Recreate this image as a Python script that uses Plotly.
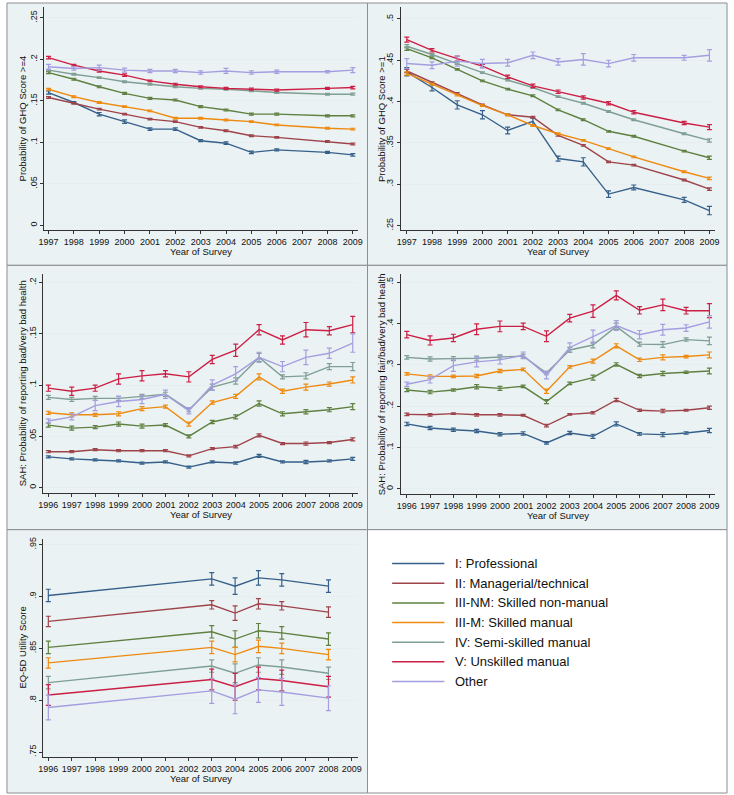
import plotly.graph_objects as go

W, H = 734, 795

classes = ["I: Professional", "II: Managerial/technical", "III-NM: Skilled non-manual",
           "III-M: Skilled manual", "IV: Semi-skilled manual", "V: Unskilled manual", "Other"]
colors = ["#36608a", "#9e434a", "#5f8040", "#ee8a10", "#7f9e94", "#cc1f45", "#a49ee0"]

# ---------------- GHQ >= 4 ----------------
ghq_years = [1997, 1998, 1999, 2000, 2001, 2002, 2003, 2004, 2005, 2006, 2008, 2009]
ghq4_values = [
    [0.160, 0.148, 0.134, 0.125, 0.116, 0.116, 0.102, 0.099, 0.088, 0.091, 0.088, 0.085],
    [0.154, 0.147, 0.140, 0.134, 0.128, 0.125, 0.118, 0.114, 0.108, 0.106, 0.101, 0.098],
    [0.184, 0.176, 0.167, 0.159, 0.153, 0.151, 0.143, 0.139, 0.134, 0.134, 0.132, 0.132],
    [0.164, 0.155, 0.148, 0.143, 0.138, 0.129, 0.129, 0.127, 0.125, 0.121, 0.117, 0.116],
    [0.187, 0.182, 0.178, 0.173, 0.170, 0.167, 0.165, 0.164, 0.162, 0.160, 0.158, 0.158],
    [0.202, 0.193, 0.186, 0.181, 0.174, 0.170, 0.167, 0.165, 0.164, 0.163, 0.165, 0.166],
    [0.191, 0.189, 0.190, 0.187, 0.186, 0.186, 0.184, 0.186, 0.184, 0.185, 0.185, 0.187],
]
ghq4_errors = [
    [0.002, 0.001, 0.002, 0.002, 0.0015, 0.0015, 0.0012, 0.0015, 0.0015, 0.0012, 0.0012, 0.0015],
    [0.001, 0.001, 0.001, 0.001, 0.001, 0.001, 0.001, 0.001, 0.001, 0.001, 0.001, 0.001],
    [0.0012, 0.0012, 0.0012, 0.0012, 0.0012, 0.0012, 0.0012, 0.0012, 0.0012, 0.0012, 0.0012, 0.0012],
    [0.001, 0.001, 0.001, 0.001, 0.001, 0.001, 0.001, 0.001, 0.001, 0.001, 0.001, 0.001],
    [0.001, 0.001, 0.001, 0.001, 0.001, 0.001, 0.001, 0.001, 0.001, 0.001, 0.001, 0.0012],
    [0.0015, 0.001, 0.0015, 0.0015, 0.001, 0.0012, 0.0012, 0.0012, 0.0012, 0.0012, 0.0012, 0.0015],
    [0.003, 0.002, 0.003, 0.0025, 0.002, 0.002, 0.002, 0.003, 0.002, 0.002, 0.0015, 0.003],
]

# ---------------- GHQ >= 1 ----------------
ghq1_values = [
    [0.436, 0.417, 0.396, 0.384, 0.365, 0.376, 0.331, 0.327, 0.288, 0.296, 0.281, 0.268],
    [0.437, 0.423, 0.410, 0.396, 0.384, 0.381, 0.359, 0.347, 0.327, 0.323, 0.305, 0.294],
    [0.464, 0.453, 0.439, 0.425, 0.415, 0.407, 0.390, 0.378, 0.364, 0.358, 0.340, 0.332],
    [0.434, 0.421, 0.408, 0.395, 0.384, 0.371, 0.361, 0.353, 0.343, 0.333, 0.315, 0.307],
    [0.467, 0.457, 0.446, 0.435, 0.426, 0.417, 0.406, 0.398, 0.388, 0.378, 0.361, 0.353],
    [0.475, 0.462, 0.452, 0.443, 0.430, 0.419, 0.412, 0.405, 0.398, 0.387, 0.374, 0.369],
    [0.446, 0.444, 0.449, 0.446, 0.447, 0.456, 0.448, 0.451, 0.446, 0.453, 0.453, 0.456],
]
ghq1_errors = [
    [0.005, 0.004, 0.005, 0.005, 0.004, 0.004, 0.003, 0.005, 0.004, 0.003, 0.003, 0.005],
    [0.002, 0.001, 0.001, 0.001, 0.001, 0.001, 0.001, 0.001, 0.001, 0.001, 0.001, 0.0015],
    [0.002, 0.001, 0.001, 0.001, 0.001, 0.001, 0.001, 0.001, 0.001, 0.001, 0.001, 0.002],
    [0.002, 0.001, 0.001, 0.001, 0.001, 0.001, 0.001, 0.001, 0.001, 0.001, 0.001, 0.0015],
    [0.002, 0.001, 0.001, 0.001, 0.001, 0.001, 0.001, 0.001, 0.001, 0.001, 0.001, 0.002],
    [0.003, 0.002, 0.003, 0.002, 0.002, 0.002, 0.002, 0.002, 0.002, 0.002, 0.002, 0.003],
    [0.006, 0.004, 0.006, 0.005, 0.004, 0.004, 0.004, 0.007, 0.004, 0.004, 0.003, 0.007],
]

# ---------------- SAH bad / very bad ----------------
sah_years = [1996, 1997, 1998, 1999, 2000, 2001, 2002, 2003, 2004, 2005, 2006, 2007, 2008, 2009]
sahbad_values = [
    [0.030, 0.028, 0.027, 0.026, 0.024, 0.025, 0.020, 0.025, 0.024, 0.031, 0.025, 0.025, 0.026, 0.028],
    [0.035, 0.035, 0.037, 0.036, 0.036, 0.036, 0.031, 0.038, 0.040, 0.051, 0.043, 0.043, 0.044, 0.047],
    [0.061, 0.058, 0.059, 0.062, 0.060, 0.061, 0.050, 0.064, 0.069, 0.082, 0.072, 0.074, 0.076, 0.079],
    [0.073, 0.071, 0.071, 0.072, 0.077, 0.079, 0.062, 0.083, 0.089, 0.108, 0.094, 0.098, 0.101, 0.105],
    [0.088, 0.086, 0.087, 0.087, 0.089, 0.091, 0.076, 0.098, 0.104, 0.127, 0.108, 0.109, 0.118, 0.118],
    [0.097, 0.094, 0.097, 0.106, 0.109, 0.111, 0.108, 0.125, 0.134, 0.154, 0.144, 0.154, 0.153, 0.159],
    [0.065, 0.069, 0.080, 0.084, 0.086, 0.091, 0.075, 0.100, 0.111, 0.127, 0.118, 0.127, 0.131, 0.141],
]
sahbad_errors = [
    [0.001, 0.001, 0.001, 0.001, 0.001, 0.001, 0.001, 0.001, 0.0012, 0.0015, 0.001, 0.0015, 0.001, 0.0015],
    [0.001, 0.001, 0.001, 0.001, 0.001, 0.001, 0.001, 0.001, 0.0012, 0.0015, 0.001, 0.0015, 0.001, 0.0015],
    [0.002, 0.002, 0.0015, 0.002, 0.002, 0.0015, 0.0015, 0.0015, 0.002, 0.0025, 0.002, 0.002, 0.002, 0.003],
    [0.0015, 0.002, 0.0015, 0.002, 0.002, 0.0015, 0.002, 0.0015, 0.002, 0.003, 0.002, 0.003, 0.002, 0.003],
    [0.002, 0.002, 0.002, 0.002, 0.002, 0.002, 0.002, 0.003, 0.003, 0.004, 0.002, 0.003, 0.003, 0.004],
    [0.003, 0.004, 0.003, 0.005, 0.005, 0.003, 0.005, 0.004, 0.006, 0.005, 0.004, 0.007, 0.004, 0.008],
    [0.002, 0.003, 0.005, 0.005, 0.004, 0.004, 0.003, 0.005, 0.007, 0.005, 0.005, 0.007, 0.005, 0.009],
]

# ---------------- SAH fair / bad / very bad ----------------
sahfair_values = [
    [0.157, 0.147, 0.143, 0.140, 0.132, 0.134, 0.111, 0.135, 0.127, 0.157, 0.133, 0.131, 0.135, 0.141],
    [0.180, 0.179, 0.182, 0.179, 0.179, 0.178, 0.153, 0.180, 0.184, 0.215, 0.190, 0.188, 0.190, 0.196],
    [0.239, 0.234, 0.239, 0.247, 0.243, 0.248, 0.211, 0.255, 0.269, 0.301, 0.273, 0.279, 0.282, 0.285],
    [0.278, 0.272, 0.272, 0.273, 0.285, 0.289, 0.236, 0.295, 0.309, 0.346, 0.312, 0.318, 0.320, 0.324],
    [0.318, 0.314, 0.315, 0.316, 0.319, 0.321, 0.280, 0.336, 0.348, 0.393, 0.350, 0.349, 0.361, 0.358],
    [0.373, 0.359, 0.365, 0.386, 0.393, 0.393, 0.369, 0.413, 0.430, 0.468, 0.432, 0.445, 0.431, 0.431],
    [0.253, 0.264, 0.298, 0.307, 0.312, 0.323, 0.275, 0.342, 0.368, 0.395, 0.373, 0.385, 0.389, 0.404],
]
sahfair_errors = [
    [0.004, 0.004, 0.004, 0.004, 0.004, 0.004, 0.003, 0.004, 0.005, 0.005, 0.003, 0.005, 0.003, 0.005],
    [0.003, 0.003, 0.002, 0.003, 0.003, 0.002, 0.003, 0.002, 0.003, 0.004, 0.003, 0.004, 0.002, 0.004],
    [0.004, 0.004, 0.003, 0.005, 0.005, 0.003, 0.005, 0.003, 0.006, 0.004, 0.004, 0.005, 0.003, 0.007],
    [0.003, 0.004, 0.003, 0.004, 0.004, 0.003, 0.005, 0.003, 0.005, 0.005, 0.004, 0.006, 0.003, 0.007],
    [0.004, 0.005, 0.005, 0.005, 0.005, 0.005, 0.004, 0.006, 0.007, 0.008, 0.005, 0.007, 0.004, 0.009],
    [0.008, 0.011, 0.009, 0.013, 0.013, 0.008, 0.013, 0.009, 0.015, 0.011, 0.009, 0.014, 0.008, 0.017],
    [0.005, 0.008, 0.014, 0.012, 0.010, 0.008, 0.009, 0.011, 0.016, 0.012, 0.010, 0.013, 0.008, 0.015],
]

# ---------------- EQ-5D ----------------
eq_years = [1996, 2003, 2004, 2005, 2006, 2008]
eq_values = [
    [0.901, 0.917, 0.910, 0.918, 0.916, 0.910],
    [0.876, 0.892, 0.884, 0.893, 0.891, 0.885],
    [0.851, 0.866, 0.859, 0.867, 0.865, 0.859],
    [0.836, 0.851, 0.844, 0.852, 0.850, 0.844],
    [0.817, 0.833, 0.826, 0.834, 0.832, 0.826],
    [0.805, 0.820, 0.813, 0.821, 0.819, 0.813],
    [0.793, 0.809, 0.801, 0.810, 0.808, 0.802],
]
eq_errors = [
    [0.006, 0.006, 0.008, 0.007, 0.006, 0.006],
    [0.005, 0.004, 0.007, 0.005, 0.004, 0.005],
    [0.006, 0.006, 0.008, 0.007, 0.006, 0.006],
    [0.005, 0.006, 0.007, 0.006, 0.005, 0.005],
    [0.006, 0.006, 0.009, 0.007, 0.007, 0.006],
    [0.010, 0.010, 0.013, 0.011, 0.010, 0.010],
    [0.012, 0.012, 0.014, 0.012, 0.013, 0.012],
]

ghq4_ticks = [0, 0.05, 0.1, 0.15, 0.2, 0.25]
ghq4_ticktext = ["0", ".05", ".1", ".15", ".2", ".25"]
ghq1_ticks = [0.25, 0.3, 0.35, 0.4, 0.45, 0.5]
ghq1_ticktext = [".25", ".3", ".35", ".4", ".45", ".5"]
sahbad_ticks = [0, 0.05, 0.1, 0.15, 0.2]
sahbad_ticktext = ["0", ".05", ".1", ".15", ".2"]
sahfair_ticks = [0, 0.1, 0.2, 0.3, 0.4, 0.5]
sahfair_ticktext = ["0", ".1", ".2", ".3", ".4", ".5"]
eq_ticks = [0.75, 0.8, 0.85, 0.9, 0.95]
eq_ticktext = [".75", ".8", ".85", ".9", ".95"]

xtick_ghq = list(range(1997, 2010))
xtick_sah = list(range(1996, 2010))

FONT = "Liberation Sans, Arial, Helvetica, sans-serif"
TICKSIZE = 9
TITLESIZE = 9.5

# panel specs: (years, values, errors, pixel box [x0,x1,ytop,ybottom], xrange, yrange,
#               yticks, yticktext, xticks, ytitle, ytitle_x, xtitle_y)
panels = [
    (ghq_years, ghq4_values, ghq4_errors, (39, 357, 5, 229), [1996.84, 2009.19], [-0.006, 0.263],
     ghq4_ticks, ghq4_ticktext, xtick_ghq, "Probability of GHQ Score >=4", 17, 250),
    (ghq_years, ghq1_values, ghq1_errors, (401, 720, 5, 229), [1996.77, 2009.23], [0.244, 0.5145],
     ghq1_ticks, ghq1_ticktext, xtick_ghq, "Probability of GHQ Score >=1", 381, 250),
    (sah_years, sahbad_values, sahbad_errors, (38, 357, 273, 492), [1995.79, 2009.21], [-0.005, 0.208],
     sahbad_ticks, sahbad_ticktext, xtick_sah, "SAH: Probability of reporting bad/very bad health", 17, 514),
    (sah_years, sahfair_values, sahfair_errors, (401, 720, 273, 493), [1995.75, 2009.25], [-0.012, 0.519],
     sahfair_ticks, sahfair_ticktext, xtick_sah, "SAH: Probability of reporting fair/bad/very bad health", 381, 515),
    (eq_years, eq_values, eq_errors, (38, 357, 538, 757), [1995.79, 2009.25], [0.7452, 0.9558],
     eq_ticks, eq_ticktext, xtick_sah, "EQ-5D Utility Score", 17, 778),
]

fig = go.Figure()
annotations = []
shapes = []

# panel backgrounds
panel_boxes = [(1, 367, 1, 264), (367, 732, 1, 264), (1, 367, 264, 529), (367, 732, 264, 529),
               (1, 367, 529, 793), (367, 732, 529, 793)]
for i, (x0, x1, y0, y1) in enumerate(panel_boxes):
    shapes.append(dict(type="rect", xref="paper", yref="paper", layer="below",
                       x0=x0 / W, x1=x1 / W, y0=1 - y1 / H, y1=1 - y0 / H,
                       fillcolor="#ffffff" if i == 5 else "#eaf2f3",
                       line=dict(color="#8a8f92", width=1)))

for k, (yrs, vals, errs, box, xr, yr, yt, ytt, xt, ytitle, ytx, xty) in enumerate(panels):
    n = k + 1
    xa = "x" if n == 1 else f"x{n}"
    ya = "y" if n == 1 else f"y{n}"
    px0, px1, pyt, pyb = box
    for c in range(len(classes)):
        fig.add_trace(go.Scatter(
            x=yrs, y=vals[c], xaxis=xa, yaxis=ya, mode="lines", name=classes[c],
            showlegend=False, line=dict(color=colors[c], width=1.4),
            error_y=dict(type="data", array=errs[c], visible=True, color=colors[c],
                         thickness=1.2, width=2.5)))
    xkey = "xaxis" if n == 1 else f"xaxis{n}"
    ykey = "yaxis" if n == 1 else f"yaxis{n}"
    fig.layout[xkey] = dict(domain=[px0 / W, px1 / W], range=xr, anchor=ya,
                            tickmode="array", tickvals=xt, ticktext=[str(v) for v in xt],
                            tickangle=0, ticks="outside", ticklen=3, tickcolor="#333",
                            showline=True, linecolor="#333", linewidth=1, showgrid=False,
                            zeroline=False, tickfont=dict(size=TICKSIZE, color="#111", family=FONT))
    fig.layout[ykey] = dict(domain=[1 - pyb / H, 1 - pyt / H], range=yr, anchor=xa,
                            tickmode="array", tickvals=yt, ticktext=ytt, tickangle=-90,
                            ticks="outside", ticklen=3, tickcolor="#333",
                            showline=True, linecolor="#333", linewidth=1,
                            showgrid=True, gridcolor="#e6eef1", gridwidth=1, zeroline=False,
                            tickfont=dict(size=TICKSIZE, color="#111", family=FONT))
    annotations.append(dict(text=ytitle, xref="paper", yref="paper", x=ytx / W,
                            y=1 - ((pyt + pyb) / 2) / H, textangle=-90, showarrow=False,
                            xanchor="center", yanchor="middle",
                            font=dict(size=TITLESIZE, color="#111", family=FONT)))
    annotations.append(dict(text="Year of Survey", xref="paper", yref="paper",
                            x=((px0 + px1) / 2) / W, y=1 - xty / H, showarrow=False,
                            xanchor="center", yanchor="middle",
                            font=dict(size=TITLESIZE, color="#111", family=FONT)))

# legend panel (drawn manually to match the original layout)
for i, name in enumerate(classes):
    ypix = 563 + i * 19.7
    shapes.append(dict(type="line", xref="paper", yref="paper",
                       x0=392 / W, x1=445 / W, y0=1 - ypix / H, y1=1 - ypix / H,
                       line=dict(color=colors[i], width=1.5)))
    annotations.append(dict(text=name, xref="paper", yref="paper", x=454 / W, y=1 - ypix / H,
                            showarrow=False, xanchor="left", yanchor="middle",
                            font=dict(size=13, color="#111", family=FONT)))

fig.update_layout(width=W, height=H, margin=dict(l=0, r=0, t=0, b=0),
                  paper_bgcolor="#ffffff", plot_bgcolor="#ffffff",
                  shapes=shapes, annotations=annotations, showlegend=False,
                  font=dict(family=FONT))

fig.write_html("out.html", config={"displayModeBar": False},
               post_script="document.body.style.margin='0';document.body.style.padding='0';")
